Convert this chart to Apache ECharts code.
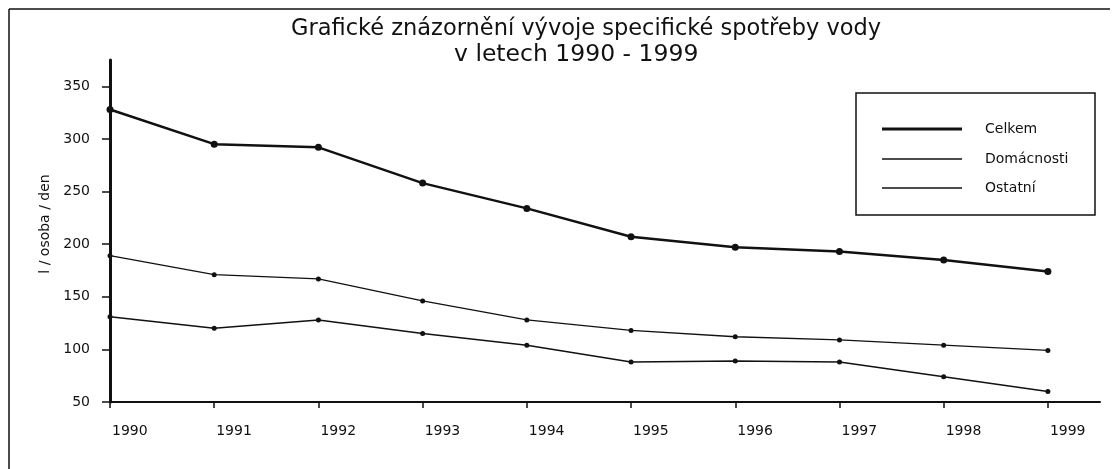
<!DOCTYPE html>
<html>
<head>
<meta charset="utf-8">
<script src="https://cdn.jsdelivr.net/npm/echarts@6/dist/echarts.min.js"></script>
<style>
html,body{margin:0;padding:0;background:#fff;}
#chart{width:1120px;height:469px;}
</style>
</head>
<body>
<div id="chart"></div>
<script>
var years = [1990, 1991, 1992, 1993, 1994, 1995, 1996, 1997, 1998, 1999];
var yTicks = [50, 100, 150, 200, 250, 300, 350];
var celkem = [328, 295, 292, 258, 234, 207, 197, 193, 185, 174];
var domacnosti = [189, 171, 167, 146, 128, 118, 112, 109, 104, 99];
var ostatni = [131, 120, 128, 115, 104, 88, 89, 88, 74, 60];

function pairs(vals) { return years.map(function (y, i) { return [y, vals[i]]; }); }

var font = 'DejaVu Sans';
var ink = '#111';

var chart = echarts.init(document.getElementById('chart'), null, { renderer: 'canvas' });
chart.setOption({
  backgroundColor: '#fff',
  animation: false,
  title: [
    { text: 'Grafické znázornění vývoje specifické spotřeby vody', left: 286, top: 13,
      textStyle: { fontFamily: font, fontSize: 22.5, fontWeight: 'normal', color: ink } },
    { text: 'v letech 1990 - 1999', left: 449, top: 38,
      textStyle: { fontFamily: font, fontSize: 23.5, fontWeight: 'normal', color: ink } }
  ],
  grid: { left: 110, right: 20, top: 60, bottom: 67 },
  legend: [
    { data: ['Celkem'], left: 882, top: 122, padding: 0, icon: 'rect', itemWidth: 80, itemHeight: 3,
      selectedMode: false, textStyle: { fontFamily: font, fontSize: 14, color: ink, padding: [0, 0, 0, 18] } },
    { data: ['Domácnosti'], left: 882, top: 152, padding: 0, icon: 'rect', itemWidth: 80, itemHeight: 1.3,
      selectedMode: false, textStyle: { fontFamily: font, fontSize: 14, color: ink, padding: [0, 0, 0, 18] } },
    { data: ['Ostatní'], left: 882, top: 181, padding: 0, icon: 'rect', itemWidth: 80, itemHeight: 1.5,
      selectedMode: false, textStyle: { fontFamily: font, fontSize: 14, color: ink, padding: [0, 0, 0, 18] } }
  ],
  xAxis: {
    type: 'value', min: 1990, max: 1999.5, interval: 1,
    splitLine: { show: false },
    axisLine: { show: true, lineStyle: { color: ink, width: 2 } },
    axisTick: { show: true, customValues: years, length: 6, lineStyle: { color: ink, width: 1.5 } },
    axisLabel: { customValues: years, formatter: function (v) { return String(v); }, margin: 22,
      align: 'left', padding: [0, 0, 0, 2],
      fontFamily: font, fontSize: 14, color: ink }
  },
  yAxis: {
    type: 'value', min: 50, max: 375, interval: 25,
    name: 'l / osoba / den', nameLocation: 'middle', nameGap: 58, nameRotate: 90,
    nameTextStyle: { fontFamily: font, fontSize: 14, color: ink, padding: [0, 0, 0, 14] },
    splitLine: { show: false },
    axisLine: { show: true, lineStyle: { color: ink, width: 3 } },
    axisTick: { show: true, customValues: yTicks, length: 8, lineStyle: { color: ink, width: 1.5 } },
    axisLabel: { customValues: yTicks, margin: 20, fontFamily: font, fontSize: 14, color: ink }
  },
  series: [
    { name: 'Celkem', type: 'line', data: pairs(celkem), symbol: 'circle', symbolSize: 7,
      lineStyle: { color: ink, width: 2.5 }, itemStyle: { color: ink } },
    { name: 'Domácnosti', type: 'line', data: pairs(domacnosti), symbol: 'circle', symbolSize: 5,
      lineStyle: { color: ink, width: 1.3 }, itemStyle: { color: ink } },
    { name: 'Ostatní', type: 'line', data: pairs(ostatni), symbol: 'circle', symbolSize: 5,
      lineStyle: { color: ink, width: 1.5 }, itemStyle: { color: ink } }
  ],
  graphic: [
    { type: 'line', shape: { x1: 9, y1: 9, x2: 1110, y2: 9 }, style: { stroke: ink, lineWidth: 1.5 } },
    { type: 'line', shape: { x1: 9, y1: 9, x2: 9, y2: 469 }, style: { stroke: ink, lineWidth: 1.5 } },
    { type: 'rect', shape: { x: 856, y: 93, width: 239, height: 122 },
      style: { fill: 'none', stroke: ink, lineWidth: 1.5 }, z: -1 }
  ]
});
</script>
</body>
</html>
